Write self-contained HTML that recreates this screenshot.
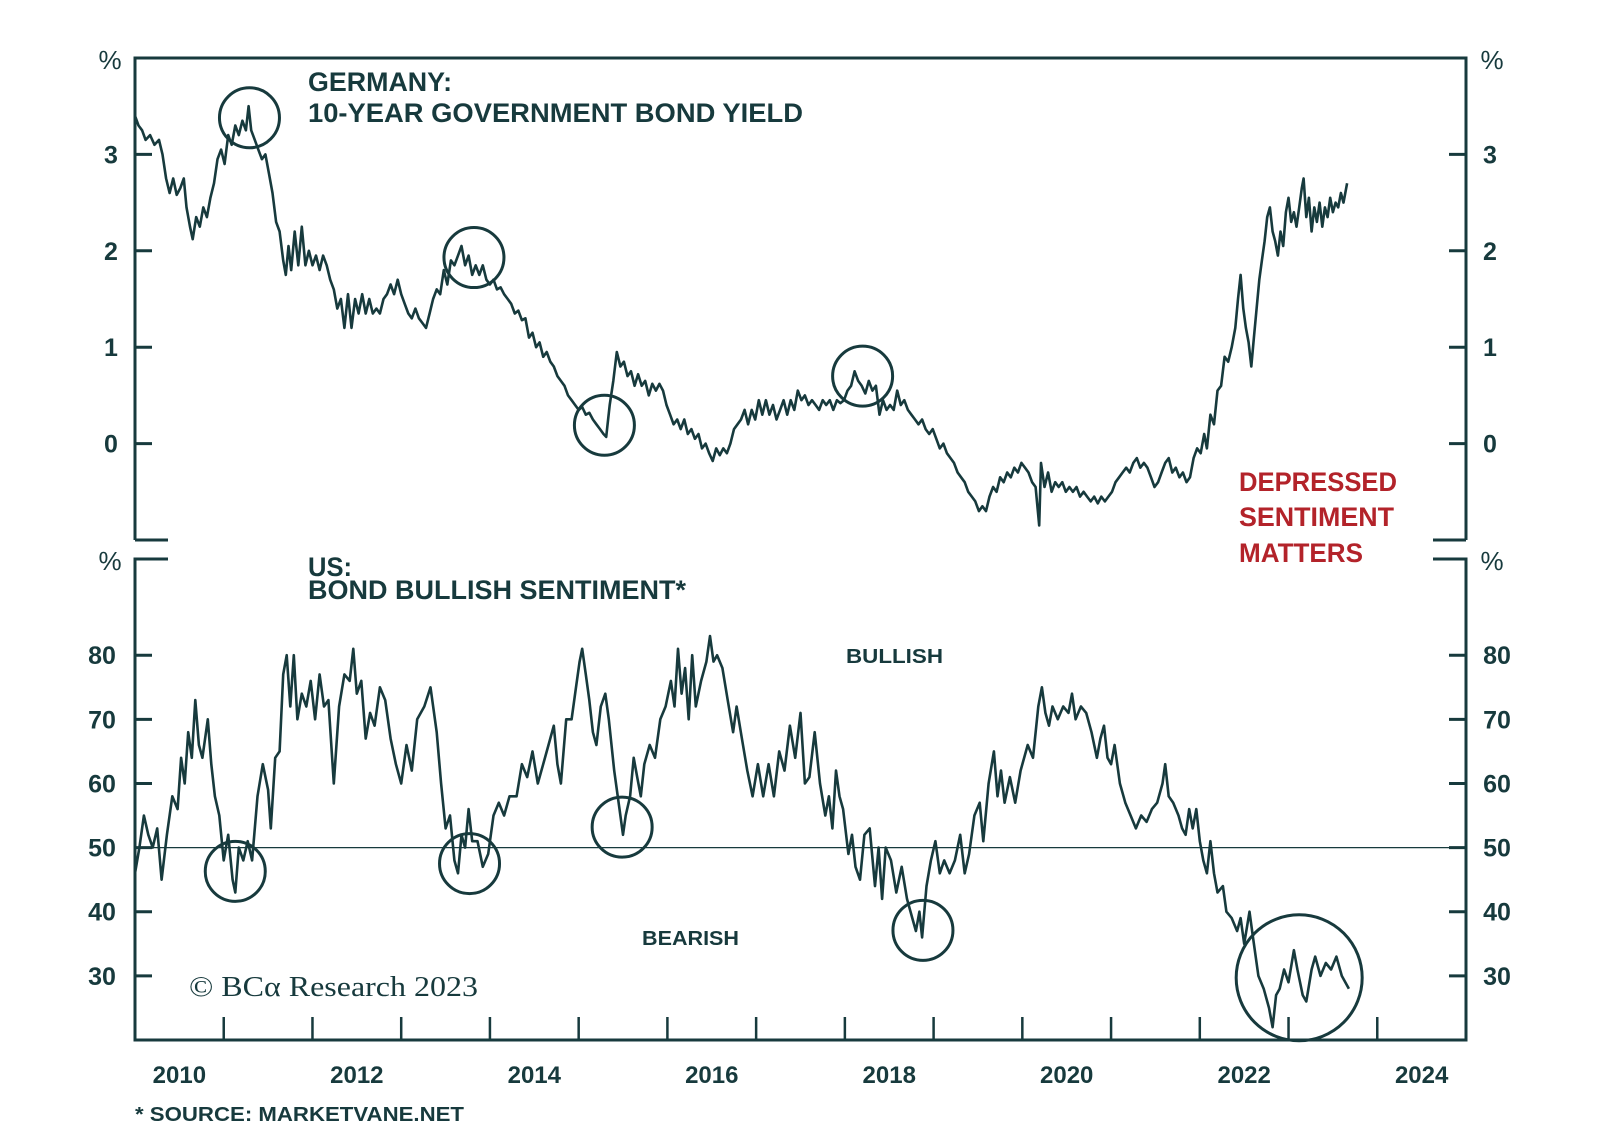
<!DOCTYPE html>
<html><head><meta charset="utf-8">
<style>
html,body{margin:0;padding:0;background:#fff;}
svg{display:block;font-family:"Liberation Sans",sans-serif;}
</style></head>
<body>
<svg id="chart" width="1600" height="1137" viewBox="0 0 1600 1137" xmlns="http://www.w3.org/2000/svg">
<g fill="#173a3d" font-weight="bold">
<text x="308" y="91" font-size="27" textLength="144" lengthAdjust="spacingAndGlyphs">GERMANY:</text>
<text x="308" y="122" font-size="27" textLength="495" lengthAdjust="spacingAndGlyphs">10-YEAR GOVERNMENT BOND YIELD</text>
<text x="308" y="576" font-size="27" textLength="44" lengthAdjust="spacingAndGlyphs">US:</text>
<text x="308" y="599" font-size="27" textLength="378" lengthAdjust="spacingAndGlyphs">BOND BULLISH SENTIMENT*</text>
<text x="846" y="663" font-size="20" textLength="97" lengthAdjust="spacingAndGlyphs">BULLISH</text>
<text x="642" y="945" font-size="20" textLength="97" lengthAdjust="spacingAndGlyphs">BEARISH</text>
<text x="135" y="1121" font-size="20" textLength="329" lengthAdjust="spacingAndGlyphs">* SOURCE: MARKETVANE.NET</text>
</g>
<g fill="#b3232a" font-weight="bold" font-size="27">
<text x="1239" y="491" textLength="158" lengthAdjust="spacingAndGlyphs">DEPRESSED</text>
<text x="1239" y="526" textLength="155" lengthAdjust="spacingAndGlyphs">SENTIMENT</text>
<text x="1239" y="562" textLength="124" lengthAdjust="spacingAndGlyphs">MATTERS</text>
</g>
<text x="189" y="996" font-family="'Liberation Serif',serif" font-size="29" fill="#173a3d" textLength="289" lengthAdjust="spacingAndGlyphs">© BCα Research 2023</text>
</svg>
<script>
// ---------- data ----------
const deDates = [2010.00,2010.04,2010.08,2010.12,2010.17,2010.22,2010.27,2010.31,2010.35,2010.39,2010.43,2010.47,2010.51,2010.55,2010.58,2010.62,2010.65,2010.69,2010.73,2010.77,2010.81,2010.85,2010.89,2010.93,2010.97,2011.01,2011.05,2011.09,2011.13,2011.17,2011.21,2011.25,2011.28,2011.31,2011.35,2011.39,2011.43,2011.47,2011.51,2011.55,2011.59,2011.63,2011.67,
2011.70,2011.73,2011.76,2011.80,2011.84,2011.88,2011.92,2011.96,2012.00,2012.04,2012.08,2012.12,2012.16,2012.20,2012.24,2012.28,2012.32,2012.36,2012.40,2012.44,2012.48,2012.52,2012.56,2012.60,2012.64,2012.68,2012.72,2012.76,2012.80,2012.84,2012.88,2012.92,2012.96,2013.00,2013.04,2013.08,2013.12,2013.16,2013.20,2013.24,2013.28,2013.32,2013.36,2013.40,2013.44,2013.48,2013.52,2013.56,2013.60,2013.64,2013.68,2013.72,2013.76,2013.80,2013.84,2013.88,2013.92,2013.96,
2014.00,2014.04,2014.08,2014.12,2014.16,2014.20,2014.24,2014.28,2014.32,2014.36,2014.40,2014.44,2014.48,2014.52,2014.56,2014.60,2014.64,2014.68,2014.72,2014.76,2014.80,2014.84,2014.88,2014.92,2014.96,2015.00,2015.04,2015.08,2015.12,2015.16,2015.20,2015.24,2015.28,2015.31,2015.35,2015.39,2015.43,2015.47,2015.51,2015.55,2015.59,2015.63,2015.67,2015.71,2015.75,2015.79,2015.83,2015.87,2015.91,2015.95,2015.99,
2016.03,2016.07,2016.11,2016.15,2016.19,2016.23,2016.27,2016.31,2016.35,2016.39,2016.43,2016.47,2016.51,2016.55,2016.59,2016.63,2016.67,2016.71,2016.75,2016.79,2016.83,2016.87,2016.91,2016.95,2016.99,2017.03,2017.07,2017.11,2017.15,2017.19,2017.23,2017.27,2017.31,2017.35,2017.39,2017.43,2017.47,2017.51,2017.55,2017.59,2017.63,2017.67,2017.71,2017.75,2017.79,2017.83,2017.87,2017.91,2017.95,2017.99,
2018.03,2018.07,2018.11,2018.15,2018.19,2018.23,2018.27,2018.31,2018.35,2018.39,2018.43,2018.47,2018.51,2018.55,2018.59,2018.63,2018.67,2018.71,2018.75,2018.79,2018.83,2018.87,2018.91,2018.95,2018.99,2019.03,2019.07,2019.11,2019.15,2019.19,2019.23,2019.27,2019.31,2019.35,2019.39,2019.43,2019.47,2019.51,2019.55,2019.59,2019.63,2019.67,2019.71,2019.75,2019.79,2019.83,2019.87,2019.91,2019.95,2019.99,
2020.03,2020.07,2020.11,2020.15,2020.19,2020.21,2020.25,2020.29,2020.33,2020.37,2020.41,2020.45,2020.49,2020.53,2020.57,2020.61,2020.65,2020.69,2020.73,2020.77,2020.81,2020.85,2020.89,2020.93,2020.97,2021.01,2021.05,2021.09,2021.13,2021.17,2021.21,2021.25,2021.29,2021.33,2021.37,2021.41,2021.45,2021.49,2021.53,2021.57,2021.61,2021.65,2021.69,2021.73,2021.77,2021.81,2021.85,2021.89,2021.93,2021.97,
2022.01,2022.05,2022.08,2022.12,2022.16,2022.20,2022.24,2022.28,2022.32,2022.36,2022.40,2022.43,2022.46,2022.49,2022.52,2022.55,2022.58,2022.61,2022.64,2022.67,2022.70,2022.73,2022.76,2022.79,2022.82,2022.85,2022.88,2022.91,2022.94,2022.97,2023.00,2023.03,2023.06,2023.09,2023.12,2023.15,2023.17,2023.20,2023.23,2023.26,2023.29,2023.32,2023.35,2023.38,2023.41,2023.44,2023.47,2023.50,2023.53,2023.56,2023.59,2023.62,2023.66];
const deYield = [3.40,3.30,3.25,3.15,3.20,3.10,3.15,3.00,2.75,2.60,2.75,2.58,2.65,2.75,2.45,2.25,2.12,2.35,2.25,2.45,2.35,2.55,2.70,2.95,3.05,2.90,3.20,3.10,3.30,3.20,3.35,3.25,3.50,3.25,3.15,3.05,2.95,3.00,2.80,2.60,2.30,2.20,1.90,
1.75,2.05,1.80,2.20,1.85,2.25,1.85,2.00,1.85,1.95,1.80,1.95,1.85,1.70,1.60,1.40,1.50,1.20,1.55,1.20,1.50,1.35,1.55,1.35,1.50,1.35,1.40,1.35,1.50,1.55,1.65,1.55,1.70,1.55,1.45,1.35,1.30,1.40,1.30,1.25,1.20,1.35,1.50,1.60,1.55,1.80,1.65,1.90,1.85,1.95,2.05,1.85,1.95,1.75,1.85,1.75,1.85,1.70,
1.65,1.70,1.60,1.62,1.55,1.50,1.45,1.35,1.38,1.28,1.30,1.10,1.15,1.00,1.05,0.90,0.95,0.85,0.80,0.70,0.65,0.60,0.50,0.45,0.40,0.35,0.38,0.30,0.32,0.25,0.20,0.15,0.10,0.07,0.40,0.65,0.95,0.80,0.85,0.70,0.75,0.60,0.72,0.60,0.65,0.50,0.62,0.55,0.62,0.55,0.40,
0.30,0.20,0.25,0.15,0.25,0.10,0.15,0.05,0.10,-0.05,0.00,-0.10,-0.18,-0.05,-0.12,-0.05,-0.10,0.00,0.15,0.20,0.25,0.35,0.20,0.35,0.25,0.45,0.30,0.45,0.30,0.40,0.25,0.35,0.45,0.30,0.45,0.35,0.55,0.45,0.50,0.40,0.45,0.40,0.35,0.45,0.40,0.45,0.35,0.45,0.42,0.45,
0.55,0.60,0.75,0.65,0.60,0.52,0.65,0.55,0.60,0.30,0.45,0.35,0.40,0.35,0.55,0.40,0.45,0.35,0.30,0.25,0.20,0.25,0.15,0.10,0.15,0.05,-0.05,0.00,-0.10,-0.15,-0.20,-0.30,-0.35,-0.40,-0.50,-0.55,-0.60,-0.70,-0.65,-0.70,-0.55,-0.45,-0.50,-0.35,-0.40,-0.30,-0.35,-0.25,-0.30,-0.20,
-0.25,-0.30,-0.40,-0.45,-0.85,-0.20,-0.45,-0.30,-0.50,-0.40,-0.45,-0.40,-0.50,-0.45,-0.50,-0.45,-0.55,-0.50,-0.55,-0.60,-0.55,-0.62,-0.55,-0.60,-0.55,-0.50,-0.40,-0.35,-0.30,-0.25,-0.30,-0.20,-0.15,-0.25,-0.20,-0.25,-0.35,-0.45,-0.40,-0.30,-0.20,-0.15,-0.30,-0.25,-0.35,-0.30,-0.40,-0.35,-0.15,-0.05,
-0.10,0.10,-0.05,0.30,0.20,0.55,0.60,0.90,0.85,1.00,1.20,1.50,1.75,1.40,1.20,1.05,0.80,1.10,1.40,1.70,1.90,2.10,2.35,2.45,2.20,2.10,1.95,2.20,2.05,2.40,2.55,2.30,2.40,2.25,2.45,2.65,2.75,2.35,2.55,2.20,2.45,2.30,2.50,2.25,2.45,2.35,2.55,2.40,2.50,2.45,2.60,2.50,2.70];

const usDates = [2010.00,2010.05,2010.10,2010.15,2010.20,2010.25,2010.30,2010.36,2010.42,2010.48,2010.52,2010.56,2010.60,2010.64,2010.68,2010.72,2010.76,2010.82,2010.86,2010.90,2010.95,2011.00,2011.05,2011.10,2011.13,2011.17,2011.22,2011.27,2011.32,2011.38,2011.44,2011.50,2011.53,2011.58,2011.63,2011.67,2011.71,2011.75,2011.79,2011.83,2011.88,2011.93,2011.98,
2012.03,2012.08,2012.13,2012.18,2012.24,2012.30,2012.36,2012.42,2012.46,2012.50,2012.55,2012.60,2012.65,2012.70,2012.76,2012.82,2012.88,2012.94,2013.00,2013.06,2013.12,2013.18,2013.26,2013.33,2013.40,2013.45,2013.50,2013.55,2013.60,2013.64,2013.68,2013.72,2013.76,2013.80,2013.86,2013.92,2013.98,
2014.04,2014.10,2014.16,2014.22,2014.30,2014.36,2014.42,2014.48,2014.54,2014.60,2014.66,2014.72,2014.76,2014.80,2014.86,2014.92,2014.97,2015.01,2015.04,2015.08,2015.12,2015.16,2015.20,2015.25,2015.30,2015.34,2015.40,2015.46,2015.50,2015.53,2015.58,2015.62,2015.66,2015.70,2015.74,2015.80,2015.86,2015.92,2015.98,
2016.04,2016.08,2016.12,2016.16,2016.20,2016.24,2016.28,2016.32,2016.38,2016.44,2016.48,2016.52,2016.56,2016.62,2016.68,2016.74,2016.78,2016.84,2016.90,2016.96,2017.02,2017.08,2017.14,2017.20,2017.26,2017.32,2017.38,2017.44,2017.50,2017.55,2017.60,2017.66,2017.72,2017.78,2017.82,2017.86,2017.90,2017.94,2017.98,
2018.04,2018.08,2018.12,2018.17,2018.22,2018.28,2018.34,2018.38,2018.42,2018.46,2018.52,2018.58,2018.64,2018.70,2018.76,2018.80,2018.84,2018.87,2018.92,2018.97,2019.02,2019.07,2019.12,2019.18,2019.24,2019.30,2019.35,2019.40,2019.46,2019.52,2019.56,2019.62,2019.68,2019.72,2019.76,2019.80,2019.86,2019.92,2019.98,
2020.06,2020.12,2020.18,2020.22,2020.26,2020.30,2020.34,2020.40,2020.46,2020.52,2020.56,2020.60,2020.66,2020.72,2020.78,2020.84,2020.88,2020.92,2020.96,2021.00,2021.04,2021.10,2021.16,2021.22,2021.28,2021.34,2021.40,2021.46,2021.52,2021.58,2021.61,2021.65,2021.70,2021.76,2021.80,2021.84,2021.88,2021.92,2021.96,
2022.00,2022.04,2022.08,2022.12,2022.16,2022.20,2022.26,2022.30,2022.36,2022.42,2022.46,2022.50,2022.56,2022.60,2022.66,2022.72,2022.78,2022.82,2022.86,2022.90,2022.95,2023.00,2023.06,2023.10,2023.16,2023.20,2023.26,2023.30,2023.36,2023.42,2023.48,2023.54,2023.60,2023.64,2023.68];
const usBullish = [46,50,55,52,50,53,45,52,58,56,64,60,68,64,73,66,64,70,63,58,55,48,52,45,43,50,48,51,48,58,63,59,53,64,65,77,80,72,80,70,74,72,76,
70,77,72,73,60,72,77,76,81,74,76,67,71,69,75,73,67,63,60,66,62,70,72,75,68,60,53,55,48,46,52,50,56,51,51,47,49,
55,57,55,58,58,63,61,65,60,63,66,69,63,60,70,70,75,79,81,77,73,68,66,72,74,70,62,56,52,55,58,64,61,58,63,66,64,70,72,
76,72,81,74,78,70,80,72,76,79,83,79,80,78,73,68,72,67,62,58,63,58,63,58,65,62,69,64,71,60,61,68,60,55,58,53,62,58,56,
49,52,47,45,52,53,44,50,42,50,48,43,47,42,39,37,40,36,44,48,51,46,48,46,48,52,46,49,55,57,51,60,65,58,62,57,61,57,62,
66,64,72,75,71,69,72,70,72,71,74,70,72,71,68,64,67,69,64,63,66,60,57,55,53,55,54,56,57,60,63,58,57,55,53,52,56,53,56,
51,48,46,51,46,43,44,40,39,37,39,35,40,36,30,28,25,22,27,28,31,29,34,31,27,26,31,33,30,32,31,33,30,29,28];

const topTicks = [0,1,2,3];
const bottomTicks = [30,40,50,60,70,80];
const yearLabels = [2010,2012,2014,2016,2018,2020,2022,2024];
const yearTicks = [2011,2012,2013,2014,2015,2016,2017,2018,2019,2020,2021,2022,2023,2024];
const topCircles = [[2011.29,3.38],[2013.82,1.93],[2015.29,0.19],[2018.20,0.70]];
const bottomCircles = [[2011.13,46.3],[2013.77,47.5],[2015.49,53.2],[2018.88,37.1]];
const bigCircle = [2023.12,29.7];

// ---------- axes ----------
const X0=135, X1=1466, YEAR0=2010, YEAR1=2025;
const xs = d => X0 + (d-YEAR0)/(YEAR1-YEAR0)*(X1-X0);
const yTop = v => 58 + (4-v)/5*(540-58);
const yBot = v => 559 + (95-v)/75*(1040-559);
const C = '#173a3d';
const svg = document.getElementById('chart');
const NS = 'http://www.w3.org/2000/svg';
function mk(tag, attrs, parent){
  const e = document.createElementNS(NS, tag);
  for (const k in attrs) e.setAttribute(k, attrs[k]);
  (parent||svg).appendChild(e);
  return e;
}

let e;
e = mk('path',{d:`M${X0},540 V58 H${X1} V540 M${X0},540 H168 M${X1-33},540 H${X1}`,fill:'none',stroke:C,'stroke-width':3});


e = mk('path',{d:`M168,559 H${X0} V1040 H${X1} V559 H${X1-33}`,fill:'none',stroke:C,'stroke-width':3});



[[110,'left'],[1492,'right']].forEach(([x,s])=>{
  e = mk('text',{x:x,y:69,'font-size':26,fill:C,'text-anchor':'middle'}); e.textContent='%';
  
  
  e = mk('text',{x:x,y:570,'font-size':26,fill:C,'text-anchor':'middle'}); e.textContent='%';
  
  
});

topTicks.forEach(v=>{
  const y=yTop(v);
  e = mk('path',{d:`M${X0},${y} H${X0+17} M${X1-17},${y} H${X1}`,stroke:C,'stroke-width':3});
  
  
  e = mk('text',{x:111,y:y+9,'font-size':25,'font-weight':'bold',fill:C,'text-anchor':'middle'}); e.textContent=v;
  
  
  e = mk('text',{x:1490,y:y+9,'font-size':25,'font-weight':'bold',fill:C,'text-anchor':'middle'}); e.textContent=v;
  
  
});
bottomTicks.forEach(v=>{
  const y=yBot(v);
  e = mk('path',{d:`M${X0},${y} H${X0+17} M${X1-17},${y} H${X1}`,stroke:C,'stroke-width':3});
  
  
  e = mk('text',{x:102,y:y+9,'font-size':25,'font-weight':'bold',fill:C,'text-anchor':'middle'}); e.textContent=v;
  
  
  e = mk('text',{x:1497,y:y+9,'font-size':25,'font-weight':'bold',fill:C,'text-anchor':'middle'}); e.textContent=v;
  
  
});
e = mk('line',{x1:X0,x2:X1,y1:yBot(50),y2:yBot(50),stroke:C,'stroke-width':1.3});


yearTicks.forEach(d=>{
  const x=xs(d);
  e = mk('line',{x1:x,x2:x,y1:1040,y2:1017,stroke:C,'stroke-width':2.5});
  
  
});
yearLabels.forEach(d=>{
  e = mk('text',{x:xs(d+0.5),y:1083,'font-size':24,'font-weight':'bold',fill:C,'text-anchor':'middle'}); e.textContent=d;
  
  
});

let p = deDates.map((d,i)=>(i?'L':'M')+xs(d).toFixed(1)+','+yTop(deYield[i]).toFixed(1)).join('');
e = mk('path',{d:p,fill:'none',stroke:C,'stroke-width':2.6,'stroke-linejoin':'round'});


p = usDates.map((d,i)=>(i?'L':'M')+xs(d).toFixed(1)+','+yBot(usBullish[i]).toFixed(1)).join('');
e = mk('path',{d:p,fill:'none',stroke:C,'stroke-width':2.6,'stroke-linejoin':'round'});



topCircles.forEach(c=>{
  e = mk('circle',{cx:xs(c[0]),cy:yTop(c[1]),r:30,fill:'none',stroke:C,'stroke-width':3});
  
  
});
bottomCircles.forEach(c=>{
  e = mk('circle',{cx:xs(c[0]),cy:yBot(c[1]),r:30,fill:'none',stroke:C,'stroke-width':3});
  
  
});
e = mk('circle',{cx:xs(bigCircle[0]),cy:yBot(bigCircle[1]),r:63,fill:'none',stroke:C,'stroke-width':3});


</script>
</body></html>
